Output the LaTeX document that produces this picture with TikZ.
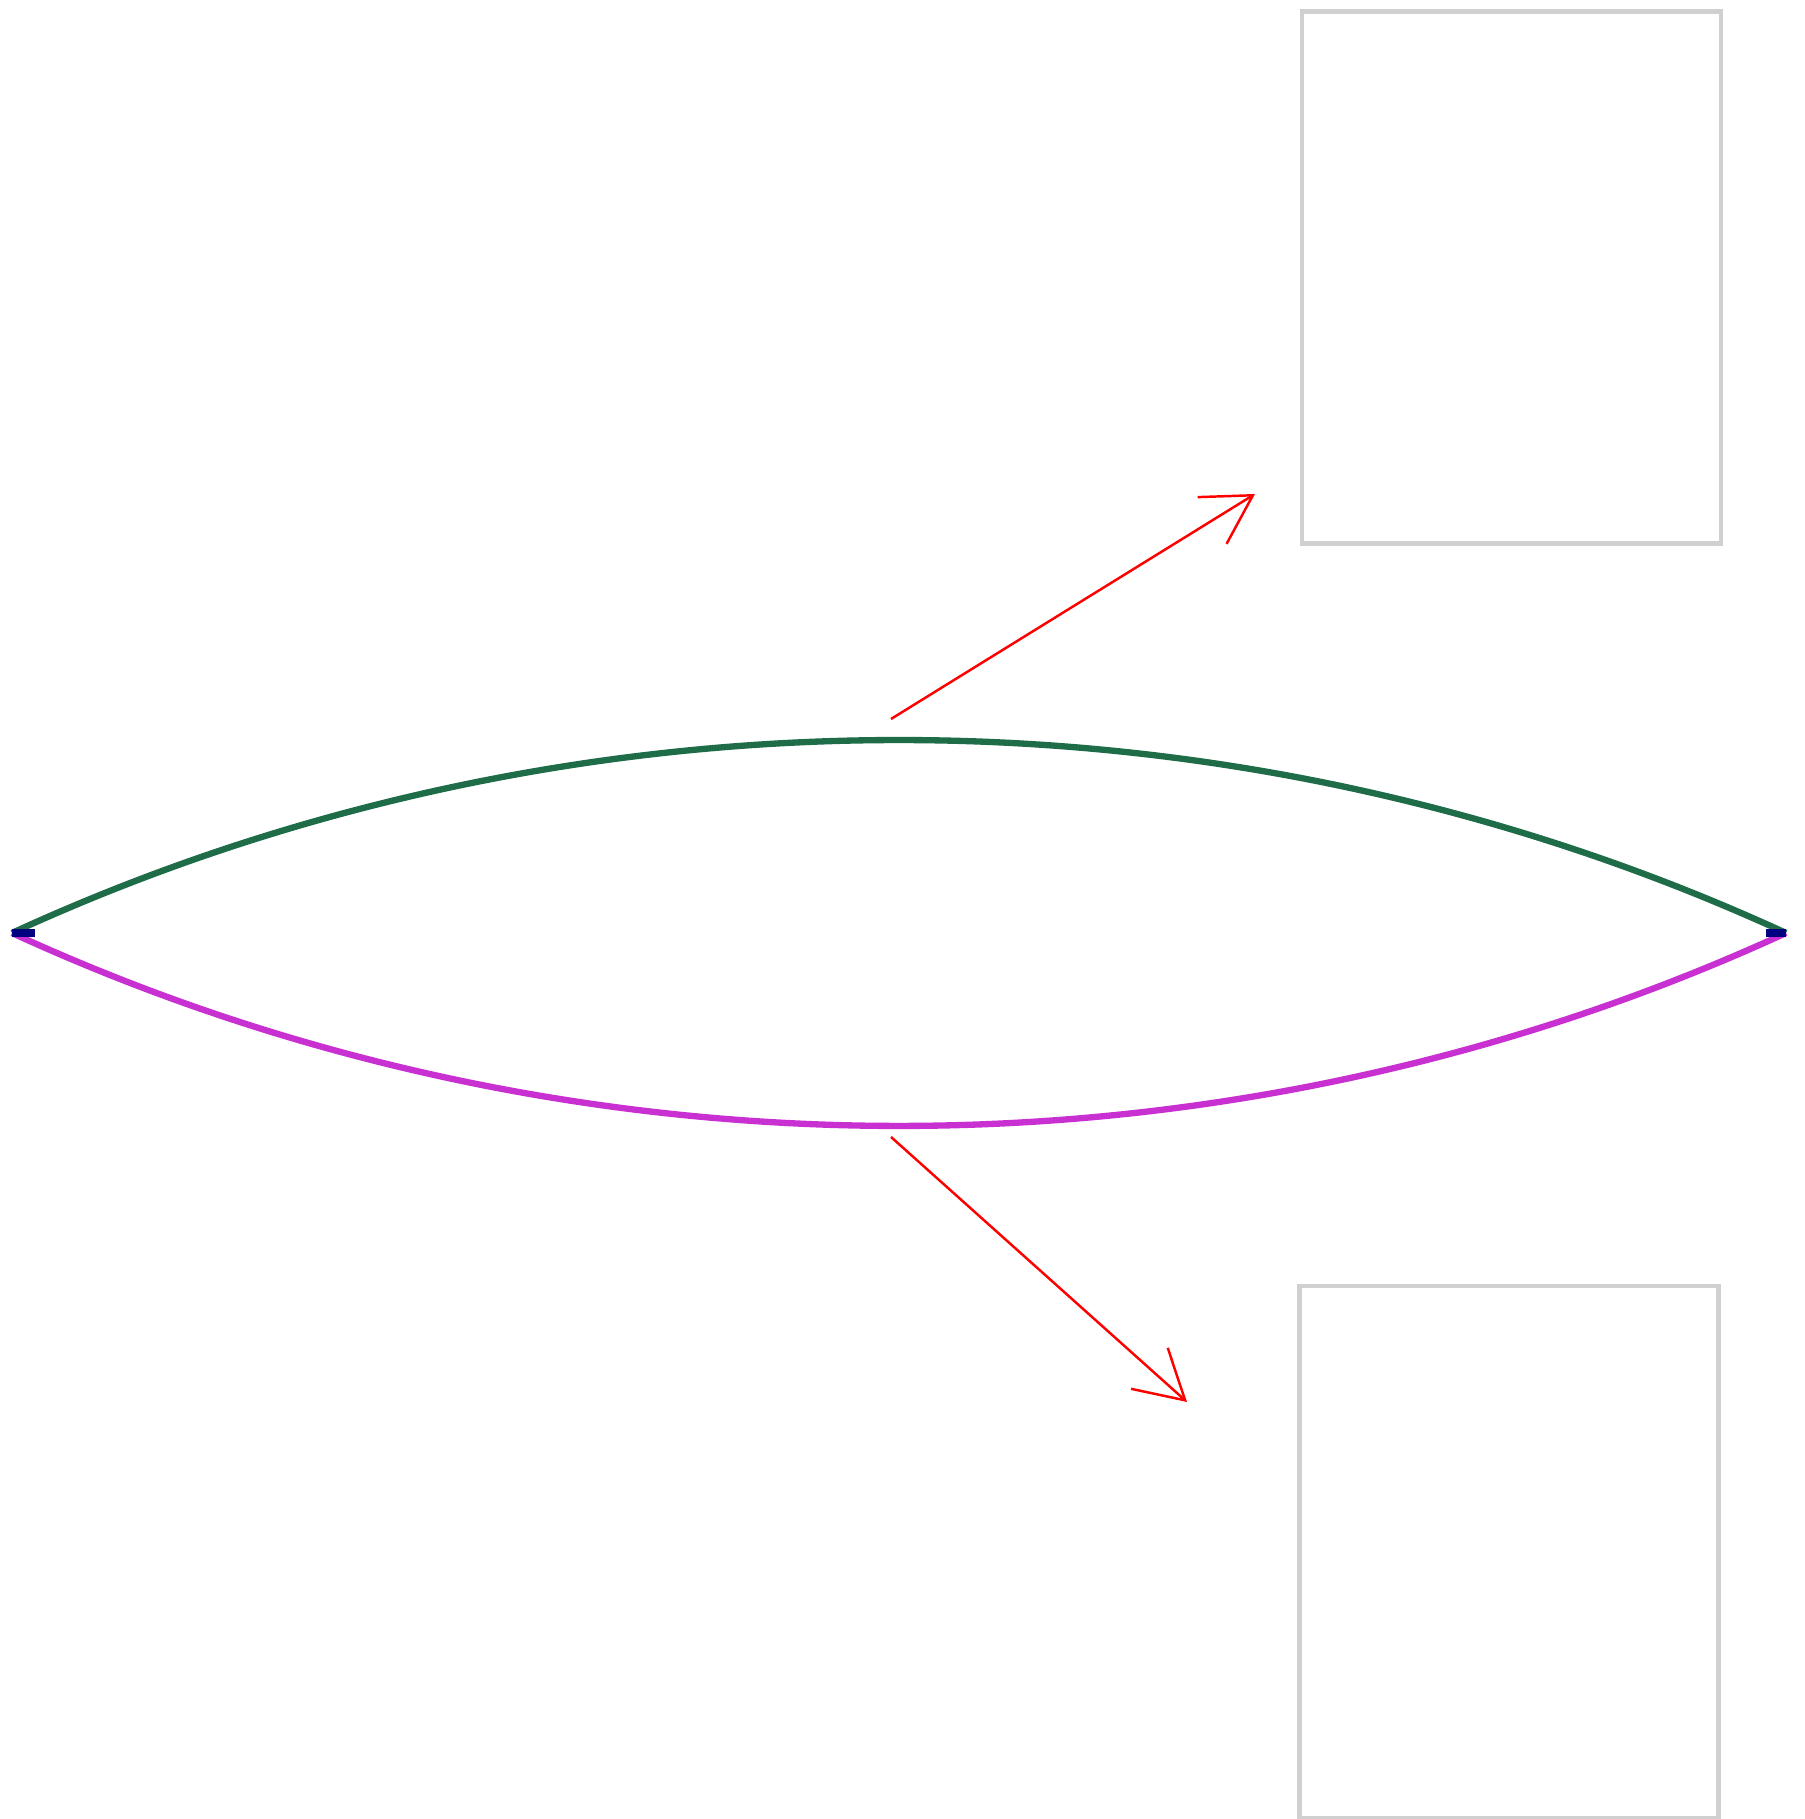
\documentclass[tikz,border=0pt]{standalone}
\usepackage{tikz}
\usetikzlibrary{arrows.meta,positioning}

\definecolor{lensgreen}{RGB}{30,108,72}
\definecolor{lenspink}{RGB}{200,48,210}
\definecolor{boxgray}{RGB}{208,208,208}

\begin{document}
\begin{tikzpicture}[
    lensup/.style={lensgreen,line width=1.8pt},
    lensdown/.style={lenspink,line width=1.8pt},
    viewbox/.style={draw=boxgray,line width=1.4pt,minimum width=4.19cm,minimum height=5.32cm,inner sep=0pt},
    pointer/.style={red,line width=0.7pt,-{Straight Barb[length=0.48cm,width=0.55cm]}}
]
    \useasboundingbox (0,0) rectangle (18.05,18.19);

    % Lens ends
    \coordinate (lt) at (0.12,8.86);
    \coordinate (rt) at (17.86,8.86);
    \draw[lensup] (lt) to[bend left=24.7,looseness=0.89] (rt);
    \draw[lensdown] (lt) to[bend right=24.7,looseness=0.89] (rt);
    \foreach \a/\b in {lt/0.23,rt/-0.2} \draw[blue!50!black,line width=2pt] (\a) -- ++(\b,0);

    % Boxes
    \node[viewbox] (upbox) at (15.115,15.415) {};
    \node[viewbox] (downbox) at (15.09,2.67) {};

    % Arrows
    \coordinate (upstart) at (8.91,11.00);
    \coordinate (upend) at (12.55,13.25);
    \coordinate (downstart) at (8.91,6.82);
    \coordinate (downend) at (11.87,4.17);
    \draw[pointer] (upstart) -- (upend);
    \draw[pointer] (downstart) -- (downend);
\end{tikzpicture}
\end{document}
